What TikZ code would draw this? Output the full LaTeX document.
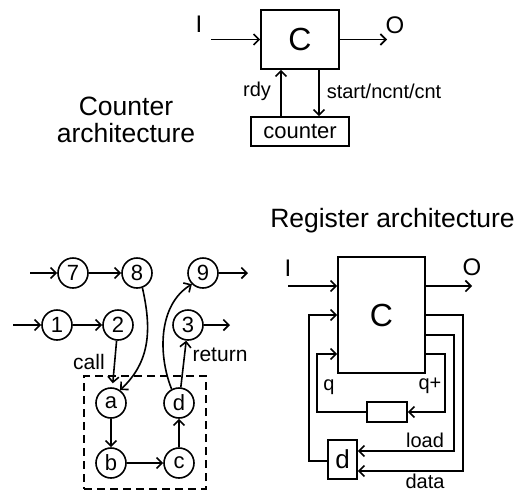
\documentclass[tikz,border=0pt]{standalone}
\usepackage{fontspec}
\setmainfont{Liberation Sans}
\usetikzlibrary{arrows.meta}
\begin{document}
\begin{tikzpicture}[x=1pt,y=-1pt,line width=1.6pt,
  >={Straight Barb[length=5.5pt,width=11pt]},
  every node/.style={font=\fontsize{20}{24}\selectfont, inner sep=0pt},
  blk/.style={draw, line width=1.6pt},
  big/.style={font=\fontsize{32}{32}\selectfont},
  io/.style={font=\fontsize{24}{24}\selectfont},
  title/.style={font=\fontsize{26.5}{27}\selectfont, align=center},
  st/.style={draw, circle, minimum size=30pt, font=\fontsize{22}{22}\selectfont},
  lbl/.style={font=\fontsize{20}{20}\selectfont}]
\useasboundingbox (0,0) rectangle (524,493);

% ---------- Counter architecture ----------
\node[title] (t1) at (126,120) {Counter\\architecture};
\node[blk, minimum width=78pt, minimum height=59pt, big] (C1) at (300,39.5) {C};
\node[io] (I1) at (199,24) {I};
\node[io] (O1) at (395,25) {O};
\coordinate (i1s) at (211,39.5);
\coordinate (o1e) at (387,39.5);
\draw[->] (i1s) -- (C1.west);
\draw[->] (C1.east) -- (o1e);
\node[blk, minimum width=98pt, minimum height=29pt, font=\fontsize{22}{22}\selectfont] (cnt) at (300,131.5) {counter};
\draw[->] (281,0 |- cnt.north) -- (281,0 |- C1.south);
\draw[->] (319,0 |- C1.south) -- (319,0 |- cnt.north);
\node[lbl] (rdy) at (257,91) {rdy};
\node[lbl, anchor=west] (snc) at (326,91) {start/ncnt/cnt};

% ---------- Call / return graph ----------
\node[st] (n7) at (73,273) {7};
\node[st] (n8) at (137,273) {8};
\node[st] (n9) at (203,273) {9};
\node[st] (n1) at (57,325) {1};
\node[st] (n2) at (118,325) {2};
\node[st] (n3) at (188,325) {3};
\node[st] (na) at (111,403) {a};
\node[st] (nd) at (179,403) {d};
\node[st] (nb) at (111,463) {b};
\node[st] (nc) at (179,463) {c};
\node[draw, dashed, dash pattern=on 8pt off 5pt, minimum width=122pt, minimum height=113pt] (grp) at (145,432.5) {};
\coordinate (in7) at (30,273);
\coordinate (in1) at (13,325);
\coordinate (out9) at (248,273);
\coordinate (out3) at (230,325);
\draw[->] (in7) -- (n7);
\draw[->] (n7) -- (n8);
\draw[->] (n9) -- (out9);
\draw[->] (in1) -- (n1);
\draw[->] (n1) -- (n2);
\draw[->] (n3) -- (out3);
\draw[->, shorten >=4pt] (n2) -- (na);
\draw[->] (n8.-70) .. controls (152,330) and (150,362) .. (na.55);
\draw[->] (nd.118) .. controls (158,355) and (158,305) .. (n9.-135);
\draw[->] (nd) -- (n3);
\draw[->] (na) -- (nb);
\draw[->] (nb) -- (nc);
\draw[->] (nc) -- (nd);
\node[font=\fontsize{21}{21}\selectfont] (call) at (89,362) {call};
\node[font=\fontsize{21}{21}\selectfont] (ret) at (220,355) {return};

% ---------- Register architecture ----------
\node[title, anchor=base] (t2) at (392.5,227) {Register architecture};
\node[blk, minimum width=87pt, minimum height=116pt, big] (C2) at (381.5,315) {C};
\node[io] (I2) at (288,268) {I};
\node[io] (O2) at (472,267) {O};
\coordinate (i2s) at (288,286);
\coordinate (o2e) at (472,286);
\draw[->] (i2s) -- (C2.west |- i2s);
\draw[->] (C2.east |- o2e) -- (o2e);
\node[blk, minimum width=40pt, minimum height=20pt] (R) at (387,412) {};
\node[blk, minimum width=29pt, minimum height=39pt, font=\fontsize{26}{26}\selectfont] (D) at (342.5,459.5) {d};
\draw[->] (C2.east |- 0,354) -| (445,412) -- (R.east);
\draw[->] (R.west) -| (317,354) -- (C2.west |- 0,354);
\draw[->] (C2.east |- 0,335) -| (454,451) -- (D.east |- 0,451);
\draw[->] (C2.east |- 0,315) -| (463,471) -- (D.east |- 0,471);
\draw[->] (D.west |- 0,461) -| (309,315) -- (C2.west |- 0,315);
\node[lbl] (q) at (329,387) {q};
\node[lbl] (qp) at (430,386) {q+};
\node[lbl] (load) at (425,440) {load};
\node[lbl] (data) at (425,481) {data};
\end{tikzpicture}
\end{document}
